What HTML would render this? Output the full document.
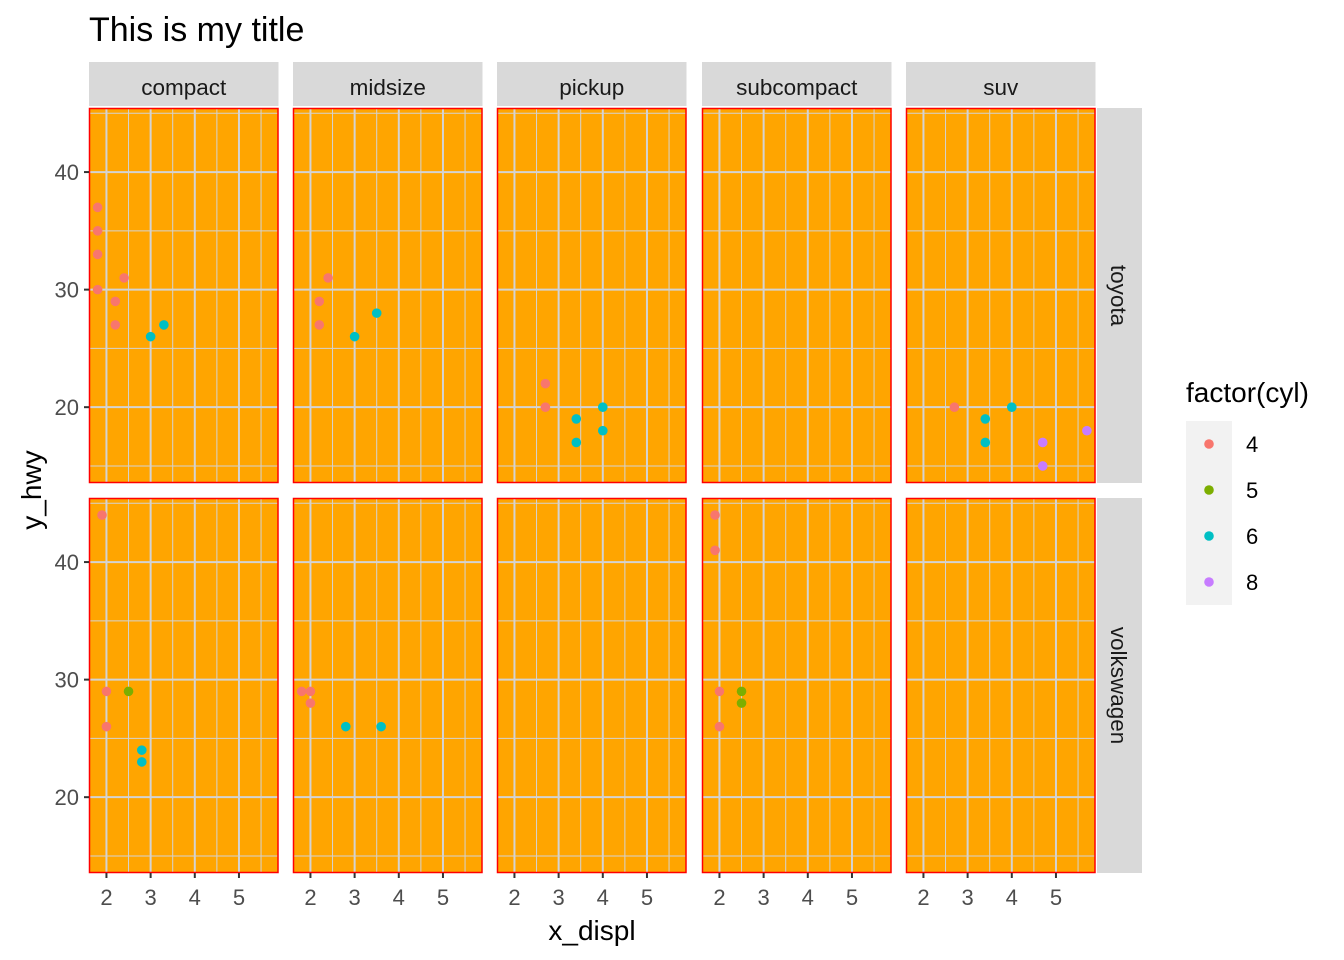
<!DOCTYPE html>
<html><head><meta charset="utf-8"><style>
body{margin:0;background:#fff;}
svg{display:block;font-family:"Liberation Sans",sans-serif;}
</style></head><body>
<svg id="chart" width="1344" height="960"></svg>
<script>
const cols = ["compact","midsize","pickup","subcompact","suv"];
const rows = ["toyota","volkswagen"];
const cylLevels = ["4","5","6","8"];
const cylColors = ["#F8766D","#7CAE00","#00BFC4","#C77CFF"];
// each point: [row, col, displ, hwy, cyl]
const ptRow = [0,0,0,0,0,0,0,0,0, 0,0,0,0,0, 0,0,0,0,0,0, 0,0,0,0,0,0,0, 1,1,1,1,1,1, 1,1,1,1,1, 1,1,1,1,1,1];
const ptCol = [0,0,0,0,0,0,0,0,0, 1,1,1,1,1, 2,2,2,2,2,2, 4,4,4,4,4,4,4, 0,0,0,0,0,0, 1,1,1,1,1, 3,3,3,3,3,3];
const ptDispl = [1.8,1.8,1.8,1.8,2.2,2.2,2.4,3.0,3.3, 2.2,2.2,2.4,3.0,3.5, 2.7,2.7,3.4,3.4,4.0,4.0, 2.7,3.4,3.4,4.0,4.7,4.7,5.7, 1.9,2.0,2.0,2.5,2.8,2.8, 1.8,2.0,2.0,2.8,3.6, 1.9,1.9,2.0,2.0,2.5,2.5];
const ptHwy = [37,35,33,30,29,27,31,26,27, 29,27,31,26,28, 22,20,19,17,20,18, 20,19,17,20,17,15,18, 44,29,26,29,24,23, 29,29,28,26,26, 44,41,29,26,29,28];
const ptCyl = ["4","4","4","4","4","4","4","6","6", "4","4","4","6","6", "4","4","6","6","6","6", "4","6","6","6","8","8","8", "4","4","4","5","6","6", "4","4","4","6","6", "4","4","4","4","5","5"];
const xTicks = [2,3,4,5];
const xMinor = [2.5,3.5,4.5,5.5];
const yTicks = [20,30,40];
const yMinor = [15,25,35,45];

const NS="http://www.w3.org/2000/svg";
const svg=document.getElementById('chart');
function mk(tag,attrs,parent){const e=document.createElementNS(NS,tag);for(const k in attrs)e.setAttribute(k,attrs[k]);(parent||svg).appendChild(e);return e;}
const colX=[89,293,497,702,906], pw=189.5;
const rowY=[108,498], ph=375;
const xMin=1.605,xMax=5.895,yMin=13.55,yMax=45.45;
function sx(c,v){return colX[c]+(v-xMin)/(xMax-xMin)*pw;}
function sy(r,v){return rowY[r]+ph-(v-yMin)/(yMax-yMin)*ph;}

let t=mk('text',{x:89,y:41,'font-size':34,fill:'#000'});t.textContent="This is my title";



cols.forEach((c,ci)=>{
  const s=mk('rect',{x:colX[ci],y:62,width:pw,height:44,fill:'#D9D9D9'});
  
  
  const tt=mk('text',{x:colX[ci]+pw/2,y:95,'font-size':22.5,fill:'#1A1A1A','text-anchor':'middle'});tt.textContent=c;
  
  
});
rows.forEach((r,ri)=>{
  const s=mk('rect',{x:1097,y:rowY[ri],width:45,height:ph,fill:'#D9D9D9'});
  
  
  const cx=1111,cy=rowY[ri]+ph/2;
  const tt=mk('text',{x:cx,y:cy,'font-size':22.5,fill:'#1A1A1A','text-anchor':'middle',transform:`rotate(90 ${cx} ${cy})`});tt.textContent=r;
  
  
});

rows.forEach((r,ri)=>cols.forEach((c,ci)=>{
  const g=mk('g',{});
  
  
  mk('rect',{x:colX[ci],y:rowY[ri],width:pw,height:ph,fill:'#FFA500'},g);
  xMinor.forEach(v=>mk('line',{x1:sx(ci,v),x2:sx(ci,v),y1:rowY[ri],y2:rowY[ri]+ph,stroke:'#D3D3D3','stroke-width':1},g));
  yMinor.forEach(v=>mk('line',{y1:sy(ri,v),y2:sy(ri,v),x1:colX[ci],x2:colX[ci]+pw,stroke:'#D3D3D3','stroke-width':1},g));
  xTicks.forEach(v=>mk('line',{x1:sx(ci,v),x2:sx(ci,v),y1:rowY[ri],y2:rowY[ri]+ph,stroke:'#D3D3D3','stroke-width':2},g));
  yTicks.forEach(v=>mk('line',{y1:sy(ri,v),y2:sy(ri,v),x1:colX[ci],x2:colX[ci]+pw,stroke:'#D3D3D3','stroke-width':2},g));
  mk('rect',{x:colX[ci]+0.5,y:rowY[ri]+0.5,width:pw-1,height:ph-1,fill:'none',stroke:'#FF0000','stroke-width':1.5},g);
}));

// y axis ticks
rows.forEach((r,ri)=>yTicks.forEach(v=>{
  mk('line',{x1:84,x2:89,y1:sy(ri,v),y2:sy(ri,v),stroke:'#333','stroke-width':2});
  const tt=mk('text',{x:79,y:sy(ri,v)+8,'font-size':22,fill:'#4D4D4D','text-anchor':'end'});tt.textContent=v;
  
  
}));
cols.forEach((c,ci)=>xTicks.forEach(v=>{
  mk('line',{x1:sx(ci,v),x2:sx(ci,v),y1:873,y2:878,stroke:'#333','stroke-width':2});
  const tt=mk('text',{x:sx(ci,v),y:905,'font-size':22,fill:'#4D4D4D','text-anchor':'middle'});tt.textContent=v;
  
  
}));

ptDispl.forEach((d,i)=>{
  const c=mk('circle',{cx:sx(ptCol[i],d),cy:sy(ptRow[i],ptHwy[i]),r:4.8,fill:cylColors[cylLevels.indexOf(ptCyl[i])]});
  
  
});

t=mk('text',{x:592,y:940,'font-size':28,fill:'#000','text-anchor':'middle'});t.textContent="x_displ";


t=mk('text',{x:41,y:490,'font-size':28,fill:'#000','text-anchor':'middle',transform:'rotate(-90 41 490)'});t.textContent="y_hwy";



t=mk('text',{x:1186,y:402,'font-size':28,fill:'#000'});t.textContent="factor(cyl)";


cylLevels.forEach((l,i)=>{
  const y=421+i*46;
  const g=mk('g',{});
  
  
  mk('rect',{x:1186,y:y,width:46,height:46,fill:'#F2F2F2'},g);
  mk('circle',{cx:1209,cy:y+23,r:4.8,fill:cylColors[i]},g);
  const tt=mk('text',{x:1246,y:y+31,'font-size':22,fill:'#000'},g);tt.textContent=l;
});
</script>
</body></html>
